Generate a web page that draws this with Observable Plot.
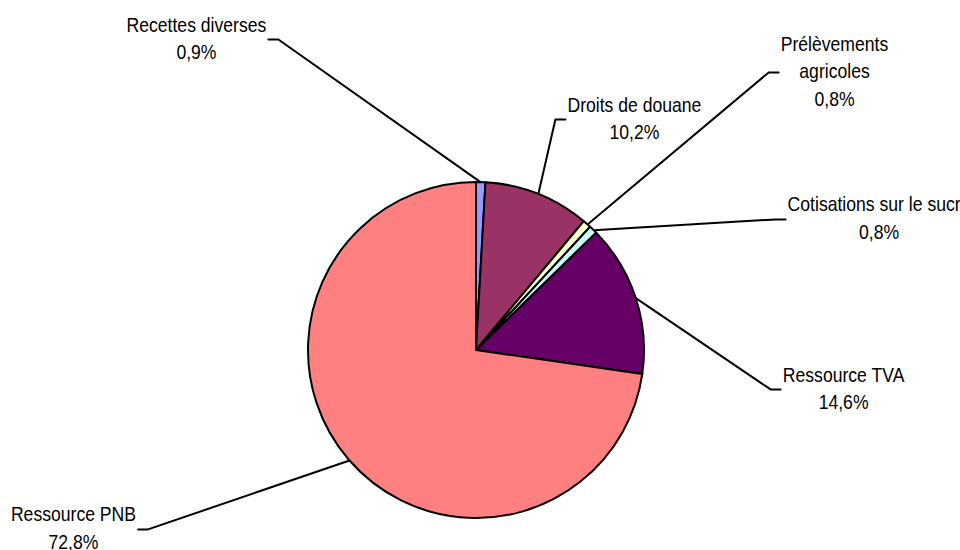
<!DOCTYPE html>
<html>
<head>
<meta charset="utf-8">
<script src="https://cdn.jsdelivr.net/npm/d3@7"></script>
<script src="https://cdn.jsdelivr.net/npm/@observablehq/plot@0.6"></script>
<style>
  html, body { margin: 0; padding: 0; background: #fff; overflow: hidden; }
  #chart { width: 960px; height: 550px; }
</style>
</head>
<body>
<div id="chart"></div>
<script>
// ---- data ----
const categories = ["Recettes diverses", "Droits de douane", "Prélèvements agricoles", "Cotisations sur le sucre", "Ressource TVA", "Ressource PNB"];
const shares = [0.9, 10.2, 0.8, 0.8, 14.6, 72.8];
const colors = ["#9999FF", "#993366", "#FFFFCC", "#CCFFFF", "#660066", "#FF8080"];

// ---- layout (label centres in pie radii, x to the right, y upward) ----
const labelX = [-1.667, 0.940, 2.131, 2.396, 2.185, -2.399];
const labelY = [1.869, 1.393, 1.673, 0.798, -0.214, -1.047];
const wrapped = {"Prélèvements agricoles": "Prélèvements\nagricoles"};

const W = 960, H = 550, R = 168, CX = 476, CY = 350;
const FONT_SIZE = 20, SQUEEZE = 0.88, FONT = "'Liberation Sans', Arial, sans-serif";

const data = categories.map((c, i) => ({name: c, value: shares[i], color: colors[i]}));
const arcs = d3.pie().sort(null).value(d => d.value)(data);

// measure text width for leader attachment
const ctx = document.createElement("canvas").getContext("2d");
ctx.font = `${FONT_SIZE}px ${FONT}`;
const fmt = v => v.toFixed(1).replace(".", ",") + "%";

const labels = arcs.map((a, i) => {
  const mid = (a.startAngle + a.endAngle) / 2;
  const ax = Math.sin(mid), ay = Math.cos(mid);
  const name = wrapped[a.data.name] || a.data.name;
  const text = name + "\n" + fmt(a.data.value);
  const w = d3.max(text.split("\n"), s => ctx.measureText(s).width) * SQUEEZE;
  const lx = labelX[i], ly = labelY[i];
  const sign = lx > ax ? 1 : -1;
  const ex = lx - sign * (w / 2 + 2) / R;
  const bx = ex - sign * 10 / R;
  const yy = ly - 3 / R; // leader meets label at its visual middle
  return {i, text, lx, ly, pts: [[ax, ay], [bx, yy], [ex, yy]]};
});
const leaderPts = labels.flatMap(l => l.pts.map(p => ({x: p[0], y: p[1], k: l.i})));

function pieMark(index, scales) {
  const x0 = scales.x(0), y0 = scales.y(0);
  const r = Math.abs(scales.x(1) - scales.x(0));
  const arc = d3.arc().innerRadius(0).outerRadius(r);
  const g = d3.create("svg:g").attr("transform", `translate(${x0},${y0})`);
  g.selectAll("path").data(arcs).join("path")
    .attr("d", arc)
    .attr("fill", d => d.data.color)
    .attr("stroke", "#000")
    .attr("stroke-width", 2)
    .attr("stroke-linejoin", "round");
  return g.node();
}

const chart = Plot.plot({
  width: W, height: H,
  margin: 0,
  x: {domain: [-CX / R, (W - CX) / R], axis: null},
  y: {domain: [-(H - CY) / R, CY / R], axis: null},
  style: {background: "white"},
  marks: [
    Plot.line(leaderPts, {x: "x", y: "y", z: "k", stroke: "#000", strokeWidth: 2}),
    pieMark,
    Plot.text(labels, {
      x: "lx", y: "ly", text: "text",
      fontSize: FONT_SIZE, fontFamily: FONT, lineHeight: 1.375,
      textAnchor: "middle", lineAnchor: "middle", fill: "#000"
    })
  ]
});

document.getElementById("chart").appendChild(chart);

// slightly condensed lettering as in the original
chart.querySelectorAll('g[aria-label="text"] text').forEach(t => {
  const tr = t.getAttribute("transform");
  if (tr) t.setAttribute("transform", tr + ` scale(${SQUEEZE},1)`);
  else {
    const x = +t.getAttribute("x") || 0, y = +t.getAttribute("y") || 0;
    t.setAttribute("transform", `translate(${x},${y}) scale(${SQUEEZE},1)`);
    t.setAttribute("x", 0); t.setAttribute("y", 0);
  }
});
</script>
</body>
</html>
